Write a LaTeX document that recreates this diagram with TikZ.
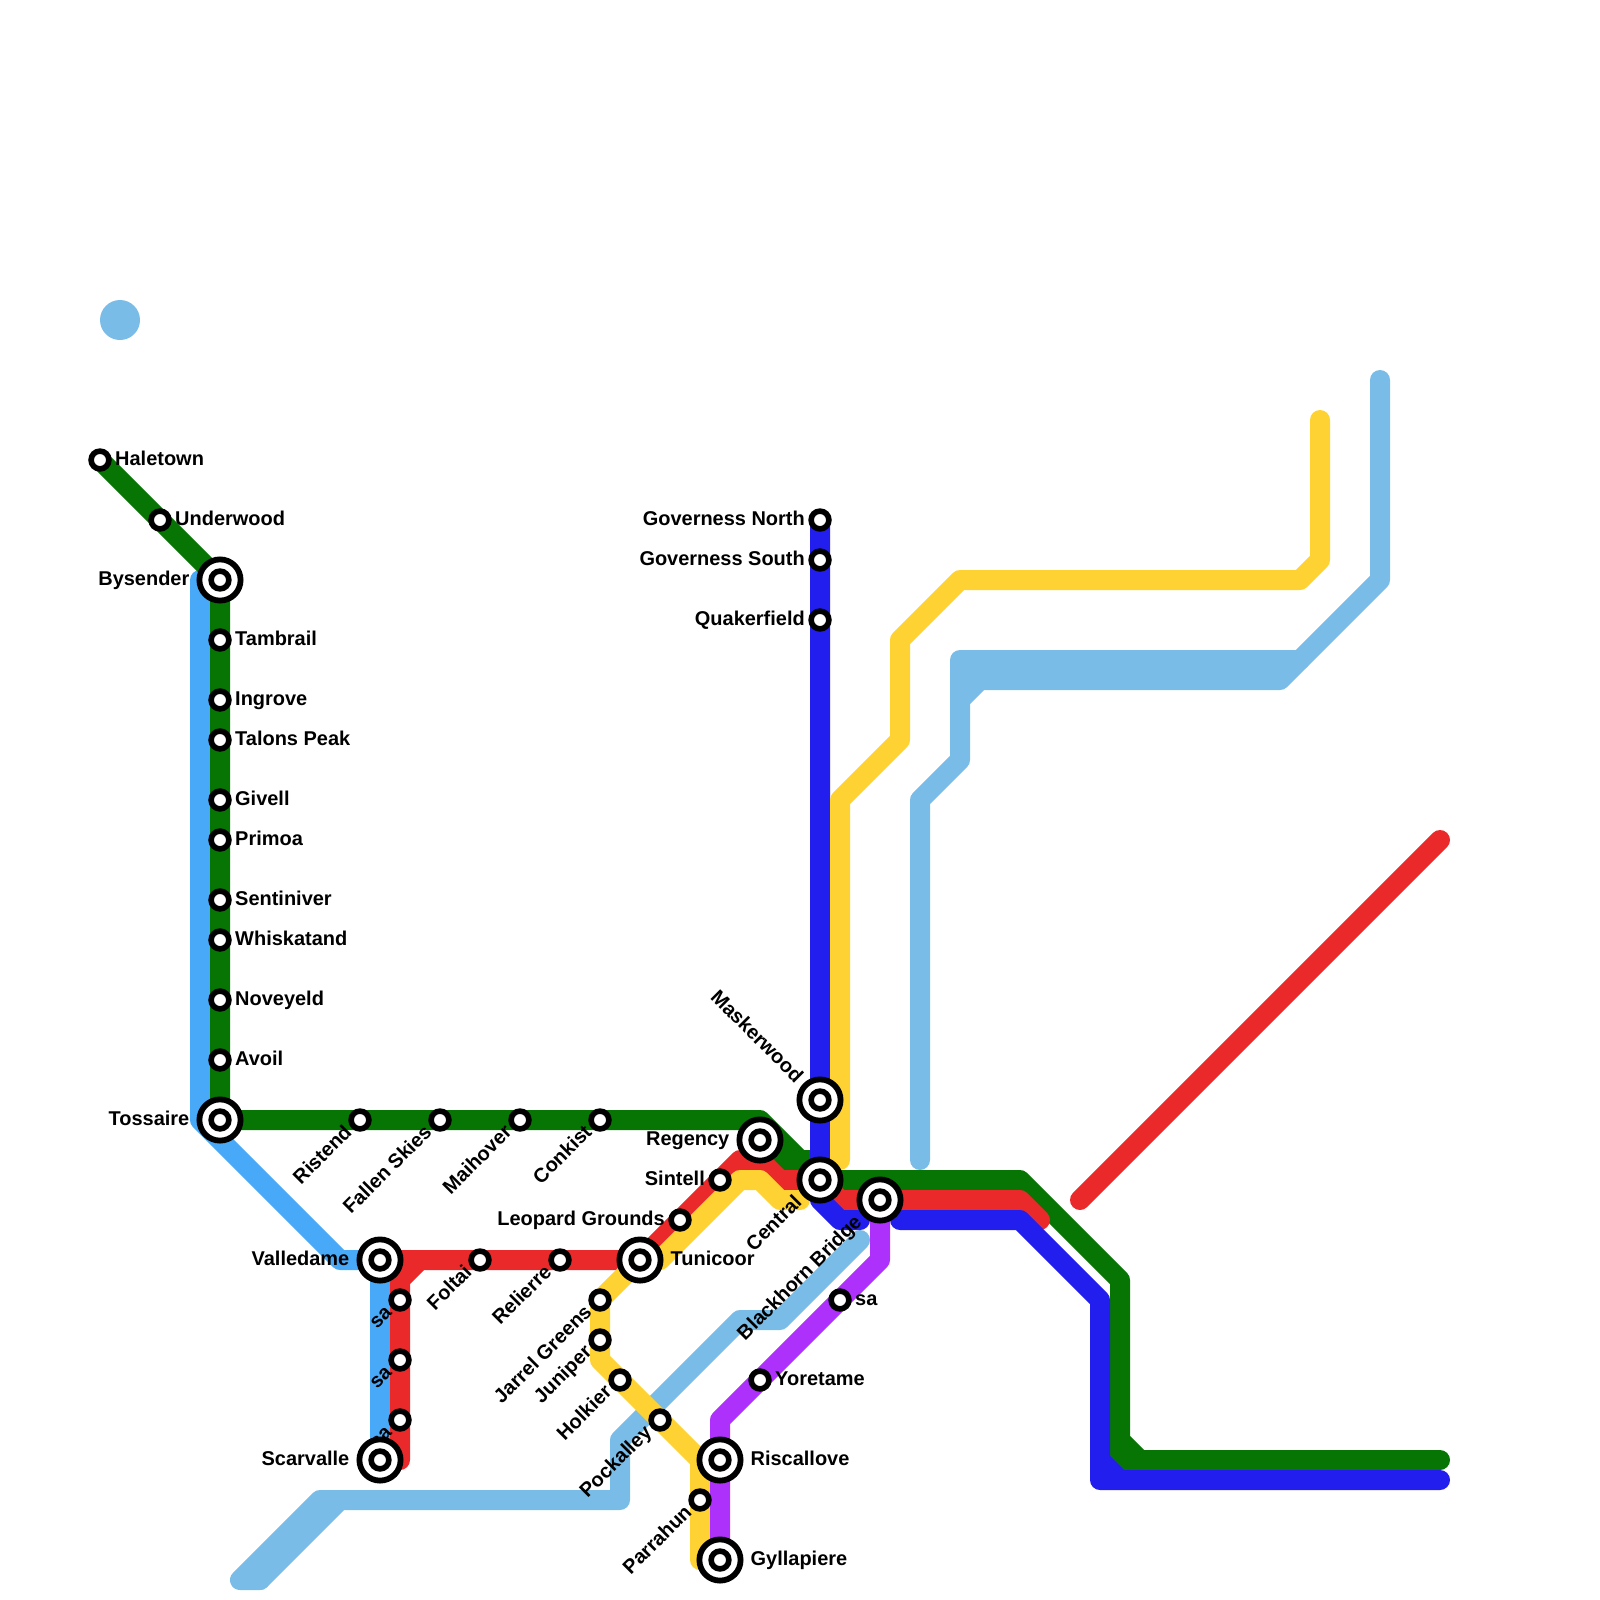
\documentclass[tikz,border=0pt]{standalone}
\usepackage{fontspec}
\setmainfont{Liberation Sans}
\usetikzlibrary{backgrounds}
\definecolor{linegreen}{HTML}{067503}
\definecolor{linered}{HTML}{EA2A2A}
\definecolor{lineblue}{HTML}{221EEE}
\definecolor{lineyellow}{HTML}{FFD233}
\definecolor{linesky}{HTML}{7ABCE8}
\definecolor{lineazure}{HTML}{47A9F8}
\definecolor{linepurple}{HTML}{AD30FB}
\tikzset{
  metro/.style={line width=5mm, line cap=round, line join=round},
  stop/.style={circle, draw=black, fill=white, line width=1.4mm, inner sep=0pt, minimum size=4.45mm},
  hub/.style={circle, draw=black, fill=white, line width=1.45mm, inner sep=0pt, minimum size=10.3mm,
    path picture={\draw[line width=1.4mm] (path picture bounding box.center) circle (2.22mm);}},
  lbl/.style={font=\fontsize{14.2pt}{16pt}\selectfont\bfseries, inner ysep=0pt, text height=10.2pt, text depth=0pt},
  lble/.style={lbl, anchor=west, inner xsep=2.3pt, yshift=1.1pt},
  lblw/.style={lbl, anchor=east, inner xsep=2.3pt, yshift=1.1pt},
  hube/.style={lble, inner xsep=4.9pt},
  hubw/.style={lblw, inner xsep=4.9pt},
  lblsw/.style={lbl, anchor=east, inner xsep=1.8pt, xshift=-1.4pt, yshift=1.4pt, rotate=45},
  lblnw/.style={lbl, anchor=east, inner xsep=3.8pt, xshift=0.5pt, yshift=0.5pt, rotate=-45},
}
\begin{document}
\begin{tikzpicture}[x=0.5cm,y=-0.5cm]
    \useasboundingbox (0,0) rectangle (80,80);

    % Stations west side
    \node[stop] (haletown) at (5,23) {};
    \node[lble] (haletownlbl) at (haletown.east) {Haletown};
    \node[stop] (underwood) at (8,26) {};
    \node[lble] (underwoodlbl) at (underwood.east) {Underwood};
    \node[hub] (bysender) at (11,29) {};
    \node[hubw] (bysenderlbl) at (bysender.west) {Bysender};
    \node[stop] (tambrail) at (11,32) {};
    \node[lble] (tambraillbl) at (tambrail.east) {Tambrail};
    \node[stop] (ingrove) at (11,35) {};
    \node[lble] (ingrovelbl) at (ingrove.east) {Ingrove};
    \node[stop] (talons) at (11,37) {};
    \node[lble] (talonslbl) at (talons.east) {Talons Peak};
    \node[stop] (givell) at (11,40) {};
    \node[lble] (givelllbl) at (givell.east) {Givell};
    \node[stop] (primoa) at (11,42) {};
    \node[lble] (primoalbl) at (primoa.east) {Primoa};
    \node[stop] (sentiniver) at (11,45) {};
    \node[lble] (sentiniverlbl) at (sentiniver.east) {Sentiniver};
    \node[stop] (whiskatand) at (11,47) {};
    \node[lble] (whiskatandlbl) at (whiskatand.east) {Whiskatand};
    \node[stop] (noveyeld) at (11,50) {};
    \node[lble] (noveyeldlbl) at (noveyeld.east) {Noveyeld};
    \node[stop] (avoil) at (11,53) {};
    \node[lble] (avoillbl) at (avoil.east) {Avoil};
    \node[hub] (tossaire) at (11,56) {};
    \node[hubw] (tossairelbl) at (tossaire.west) {Tossaire};

    % Stations along the long green stretch
    \node[stop] (ristend) at (18,56) {};
    \node[lblsw] (ristendlbl) at (ristend.225) {Ristend};
    \node[stop] (fallen) at (22,56) {};
    \node[lblsw] (fallenlbl) at (fallen.225) {Fallen Skies};
    \node[stop] (maihover) at (26,56) {};
    \node[lblsw] (maihoverlbl) at (maihover.225) {Maihover};
    \node[stop] (conkist) at (30,56) {};
    \node[lblsw] (conkistlbl) at (conkist.225) {Conkist};
    \node[hub] (regency) at (38,57) {};
    \node[hubw] (regencylbl) at (regency.west) {Regency};

    % Stations on the red line
    \node[stop] (saone) at (20,65) {};
    \node[lblsw] (saonelbl) at (saone.225) {sa};
    \node[stop] (satwo) at (20,68) {};
    \node[lblsw] (satwolbl) at (satwo.225) {sa};
    \node[stop] (sathree) at (20,71) {};
    \node[lblsw] (sathreelbl) at (sathree.225) {sa};
    \node[hub] (valledame) at (19,63) {};
    \node[hubw] (valledamelbl) at (valledame.west) {Valledame};
    \node[hub] (scarvalle) at (19,73) {};
    \node[hubw] (scarvallelbl) at (scarvalle.west) {Scarvalle};
    \node[stop] (foltai) at (24,63) {};
    \node[lblsw] (foltailbl) at (foltai.225) {Foltai};
    \node[stop] (relierre) at (28,63) {};
    \node[lblsw] (relierrelbl) at (relierre.225) {Relierre};
    \node[hub] (tunicoor) at (32,63) {};
    \node[hube] (tunicoorlbl) at (tunicoor.east) {Tunicoor};
    \node[stop] (leopard) at (34,61) {};
    \node[lblw] (leopardlbl) at (leopard.west) {Leopard Grounds};
    \node[stop] (sintell) at (36,59) {};
    \node[lblw] (sintelllbl) at (sintell.west) {Sintell};

    % Stations on the yellow line
    \node[stop] (jarrel) at (30,65) {};
    \node[lblsw] (jarrellbl) at (jarrel.225) {Jarrel Greens};
    \node[stop] (juniper) at (30,67) {};
    \node[lblsw] (juniperlbl) at (juniper.225) {Juniper};
    \node[stop] (holkier) at (31,69) {};
    \node[lblsw] (holkierlbl) at (holkier.225) {Holkier};
    \node[stop] (pockalley) at (33,71) {};
    \node[lblsw] (pockalleylbl) at (pockalley.225) {Pockalley};
    \node[stop] (parrahun) at (35,75) {};
    \node[lblsw] (parrahunlbl) at (parrahun.225) {Parrahun};

    % Stations on the purple line
    \node[stop] (sasouth) at (42,65) {};
    \node[lble] (sasouthlbl) at (sasouth.east) {sa};
    \node[stop] (yoretame) at (38,69) {};
    \node[lble] (yoretamelbl) at (yoretame.east) {Yoretame};
    \node[hub] (riscallove) at (36,73) {};
    \node[hube] (riscallovelbl) at (riscallove.east) {Riscallove};
    \node[hub] (gyllapiere) at (36,78) {};
    \node[hube] (gyllapierelbl) at (gyllapiere.east) {Gyllapiere};

    % Stations on the dark blue line
    \node[stop] (govnorth) at (41,26) {};
    \node[lblw] (govnorthlbl) at (govnorth.west) {Governess North};
    \node[stop] (govsouth) at (41,28) {};
    \node[lblw] (govsouthlbl) at (govsouth.west) {Governess South};
    \node[stop] (quakerfield) at (41,31) {};
    \node[lblw] (quakerfieldlbl) at (quakerfield.west) {Quakerfield};
    \node[hub] (maskerwood) at (41,55) {};
    \node[lblnw] (maskerwoodlbl) at (maskerwood.135) {Maskerwood};
    \node[hub] (central) at (41,59) {};
    \node[lblsw, inner xsep=3.5pt] (centrallbl) at (central.225) {Central};
    \node[hub] (blackhorn) at (44,60) {};
    \node[lblsw, inner xsep=3.5pt] (blackhornlbl) at (blackhorn.225) {Blackhorn Bridge};

    \begin{scope}[on background layer]
    % Sky blue lines
    \fill[linesky] (6,16) circle (1);
    \draw[metro, linesky] (46,58) -- (46,40) -- (48,38) -- (48,33) -- (65,33);
    \draw[metro, linesky] (48,34) -- (49,34);
    \draw[metro, linesky] (48,35) -- (49,34) -- (64,34) -- (69,29) -- (69,19);
    \draw[metro, linesky] (13,79) -- (17,75);
    \draw[metro, linesky] (13,79) -- (12,79) -- (16,75) -- (31,75) -- (31,72) -- (37,66) -- (39,66) -- (43,62);

    % Azure line
    \draw[metro, lineazure] (10,29) -- (10,56) -- (17,63) -- (valledame.center) -- (scarvalle.center);

    % Green line
    \draw[metro, linegreen] (haletown.center) -- (bysender.center) -- (tossaire.center) -- (38,56) -- (central.center) -- (51,59) -- (56,64) -- (56,72) -- (57,73) -- (72,73);
    \draw[metro, linegreen] (56,72) -- (56,73) -- (57,73);
    \draw[metro, linegreen] (regency.center) -- (39,58) -- (41,58);

    % Red lines
    \draw[metro, linered] (valledame.center) -- (tunicoor.center) -- (37,58) -- (38,58) -- (39,59) -- (central.center) -- (42,60) -- (51,60) -- (52,61);
    \draw[metro, linered] (20,73) -- (20,64) -- (21,63);
    \draw[metro, linered] (54,60) -- (72,42);

    % Dark blue lines
    \draw[metro, lineblue] (govnorth.center) -- (41,60) -- (42,61) -- (43,61);
    \draw[metro, lineblue] (45,61) -- (51,61) -- (55,65) -- (55,74) -- (72,74);
    \draw[metro, lineblue] (55,73) -- (56,74);

    % Yellow lines
    \draw[metro, lineyellow] (35,78) -- (35,73) -- (30,68) -- (jarrel.center) -- (tunicoor.center) -- (33,63) -- (37,59) -- (38,59) -- (39,60) -- (40,60);
    \draw[metro, lineyellow] (42,58) -- (42,40) -- (45,37) -- (45,32) -- (48,29) -- (65,29) -- (66,28) -- (66,21);

    % Purple line
    \draw[metro, linepurple] (blackhorn.center) -- (44,63) -- (36,71) -- (gyllapiere.center);
    \end{scope}
\end{tikzpicture}
\end{document}
